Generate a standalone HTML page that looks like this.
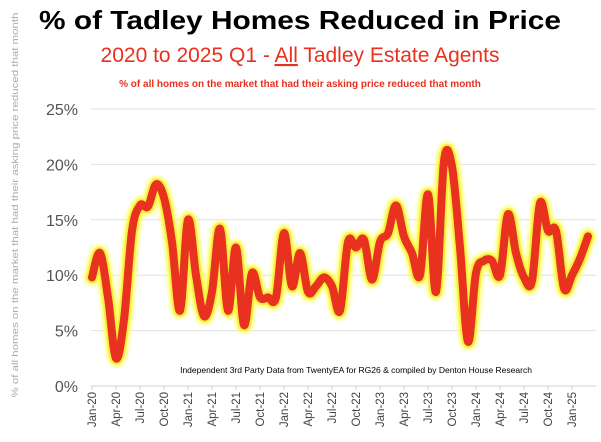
<!DOCTYPE html>
<html><head><style>
body{margin:0;background:#fff;}
svg text{font-family:"Liberation Sans",sans-serif;}
</style></head><body>
<svg id="s" width="601" height="437" xmlns="http://www.w3.org/2000/svg">
<defs><filter id="b" x="-10%" y="-10%" width="120%" height="120%"><feGaussianBlur stdDeviation="1.5"/></filter></defs>
<text x="300" y="29" text-anchor="middle" font-size="26" font-weight="bold" fill="#000" textLength="522" lengthAdjust="spacingAndGlyphs">% of Tadley Homes Reduced in Price</text>
<text x="300" y="62" text-anchor="middle" font-size="21" fill="#e8311f">2020 to 2025 Q1 - <tspan text-decoration="underline">All</tspan> Tadley Estate Agents</text>
<text x="300" y="87" text-anchor="middle" font-size="10" font-weight="bold" fill="#e8311f">% of all homes on the market that had their asking price reduced that month</text>
<text transform="translate(18,205) rotate(-90)" text-anchor="middle" font-size="9.3" fill="#aaa" textLength="385" lengthAdjust="spacingAndGlyphs">% of all homes on the market that had their asking price reduced that month</text>
<g id="g"></g>
<text x="356" y="373" text-anchor="middle" font-size="8.5" fill="#000">Independent 3rd Party Data from TwentyEA for RG26 &amp; compiled by Denton House Research</text>
</svg>
<script>
var g=document.getElementById('g'),h='';
var y0=386,k=277/25;
for(var p=0;p<=25;p+=5){var y=y0-p*k;h+='<line x1="91" x2="596" y1="'+y+'" y2="'+y+'" stroke="'+(p?'#e0e0e0':'#d0d0d0')+'"/>';h+='<text x="78" y="'+(y+6)+'" text-anchor="end" font-size="16" fill="#555">'+p+'%</text>';}
var L=['Jan-20','Apr-20','Jul-20','Oct-20','Jan-21','Apr-21','Jul-21','Oct-21','Jan-22','Apr-22','Jul-22','Oct-22','Jan-23','Apr-23','Jul-23','Oct-23','Jan-24','Apr-24','Jul-24','Oct-24','Jan-25'];
for(var i=0;i<L.length;i++){var x=92+24*i;h+='<line x1="'+x+'" x2="'+x+'" y1="386" y2="390" stroke="#d0d0d0"/>';h+='<text transform="translate('+(x+4)+',392) rotate(-90)" text-anchor="end" font-size="11.5" fill="#444">'+L[i]+'</text>';}
var d=[9.8,12,8,2.5,6,14,16.3,16.2,18.2,17,13,6.8,15,10,6.3,8.5,14.2,6.8,12.5,5.5,10.2,8,8,8,13.8,9,12,8.5,9,9.8,9,6.8,13,12.5,13.2,9.6,13,13.8,16.3,13.5,12,10,17.3,8.5,20.3,19.8,12.5,4,10.2,11.3,11.3,10,15.5,12,9.8,9.5,16.5,14,14,8.8,10,11.5,13.5];
var P=d.map(function(v,i){return[92+8*i,y0-v*k];});
var s='M'+P[0][0]+','+P[0][1];
for(var i=0;i<P.length-1;i++){var a=P[Math.max(i-1,0)],b=P[i],c=P[i+1],e=P[Math.min(i+2,P.length-1)];
s+=' C'+(b[0]+(c[0]-a[0])/6)+','+(b[1]+(c[1]-a[1])/6)+' '+(c[0]-(e[0]-b[0])/6)+','+(c[1]-(e[1]-b[1])/6)+' '+c[0]+','+c[1];}
h+='<path d="'+s+'" fill="none" stroke="#ffff60" stroke-width="16" stroke-linejoin="round" stroke-linecap="round" filter="url(#b)" opacity="0.9"/>';
h+='<path d="'+s+'" fill="none" stroke="#f5f040" stroke-width="12" stroke-linejoin="round" stroke-linecap="round"/>';
h+='<path d="'+s+'" fill="none" stroke="#e8311f" stroke-width="8" stroke-linejoin="round" stroke-linecap="round"/>';
g.innerHTML=h;
</script>
</body></html>
